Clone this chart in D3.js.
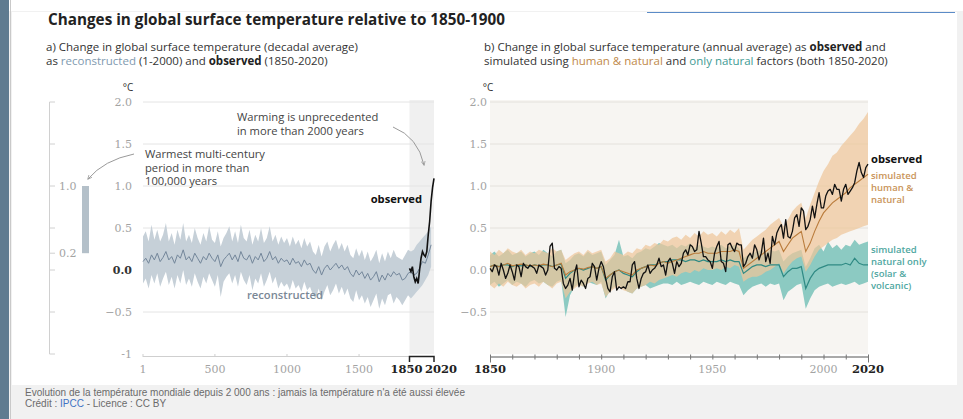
<!DOCTYPE html>
<html lang="en">
<head>
<meta charset="utf-8">
<title>Changes in global surface temperature</title>
<script src="https://cdn.jsdelivr.net/npm/d3@7"></script>
<style>
  body { margin: 0; background: #f1f1f1; font-family: "Open Sans", sans-serif; }
  svg { display: block; }
  .tick-label { font-family: "DejaVu Serif", serif; font-size: 11px; fill: #a3a3a3; }
  .year-bold { font-family: "DejaVu Serif", serif; font-size: 11.5px; font-weight: bold; fill: #222; }
  .grid { stroke: #e4e4e4; stroke-width: 1; }
  .note { font-size: 11.2px; fill: #444; }
  .legend-b { font-size: 9.5px; font-weight: 600; }
</style>
</head>
<body>
<div id="chart"></div>
<script>

// ---- panel a : reconstructed (every 20 years, 1-2000) ----
var reconMean = [
  0.10,0.14,0.08,0.18,0.12,0.20,0.10,0.15,0.22,0.12,
  0.16,0.08,0.18,0.14,0.24,0.12,0.16,0.10,0.20,0.14,
  0.08,0.16,0.12,0.20,0.14,0.10,0.18,0.04,0.12,0.16,
  0.20,0.12,0.18,0.10,0.22,0.14,0.12,0.18,0.08,0.16,
  0.12,0.20,0.10,0.14,0.22,0.12,0.16,0.08,0.14,0.10,
  0.12,0.06,0.14,0.08,0.10,0.04,0.12,0.06,0.08,0.00,
  -0.04,0.04,-0.06,0.02,0.06,0.00,0.04,0.08,0.02,0.06,
  0.00,0.04,-0.04,-0.08,0.00,-0.06,-0.02,-0.10,-0.04,-0.12,
  -0.08,-0.02,-0.14,-0.06,-0.12,-0.04,-0.08,-0.02,-0.06,-0.04,
  -0.12,-0.10,-0.04,-0.02,-0.06,-0.04,0.02,0.10,0.08,0.18,
  0.30];
var reconHi = [
  0.40,0.46,0.34,0.54,0.36,0.48,0.34,0.42,0.56,0.34,
  0.44,0.30,0.48,0.36,0.56,0.34,0.42,0.32,0.50,0.38,
  0.30,0.44,0.34,0.52,0.36,0.32,0.46,0.28,0.38,0.44,
  0.52,0.34,0.46,0.32,0.54,0.38,0.34,0.48,0.30,0.42,
  0.34,0.50,0.32,0.38,0.52,0.34,0.42,0.30,0.40,0.32,
  0.38,0.28,0.40,0.30,0.36,0.26,0.38,0.28,0.34,0.22,
  0.18,0.30,0.16,0.28,0.34,0.22,0.30,0.36,0.24,0.32,
  0.22,0.30,0.18,0.14,0.26,0.16,0.24,0.12,0.22,0.10,
  0.16,0.24,0.08,0.20,0.10,0.22,0.14,0.24,0.16,0.14,
  0.12,0.18,0.24,0.22,0.24,0.30,0.34,0.38,0.42,0.46,
  0.52];
var reconLo = [
  -0.16,-0.10,-0.22,-0.06,-0.16,-0.04,-0.20,-0.10,-0.02,-0.18,
  -0.08,-0.22,-0.06,-0.16,0.00,-0.18,-0.10,-0.20,-0.04,-0.14,
  -0.22,-0.08,-0.16,-0.04,-0.12,-0.20,-0.06,-0.32,-0.14,-0.08,
  -0.04,-0.16,-0.06,-0.20,-0.02,-0.12,-0.18,-0.06,-0.24,-0.10,
  -0.16,-0.04,-0.20,-0.12,-0.02,-0.16,-0.08,-0.22,-0.14,-0.20,
  -0.16,-0.24,-0.12,-0.22,-0.18,-0.26,-0.14,-0.24,-0.20,-0.30,
  -0.34,-0.22,-0.36,-0.26,-0.18,-0.30,-0.24,-0.16,-0.28,-0.20,
  -0.30,-0.22,-0.34,-0.38,-0.24,-0.36,-0.30,-0.40,-0.32,-0.44,
  -0.36,-0.28,-0.46,-0.34,-0.42,-0.30,-0.28,-0.40,-0.32,-0.36,
  -0.42,-0.36,-0.30,-0.34,-0.30,-0.26,-0.22,-0.18,-0.12,-0.06,
  0.04];
// panel a : observed decadal 1850-2020
var obsDecadal = [0.02,-0.02,0.04,-0.08,-0.14,-0.10,-0.16,0.00,0.14,0.22,0.18,0.16,0.22,0.42,0.58,0.82,0.98,1.09];

// ---- panel b : observed annual 1850-2020 ----
var obsAnnual = [
  0.02,-0.02,0.06,0.04,-0.06,0.08,0.00,-0.10,-0.04,0.06,
  -0.02,-0.12,0.06,0.04,-0.08,0.08,0.04,0.02,0.06,0.04,
  0.02,-0.04,0.06,0.04,0.02,-0.06,0.00,0.28,0.32,0.02,
  0.00,0.04,0.02,-0.16,-0.22,-0.18,-0.10,-0.24,-0.04,0.06,
  -0.20,-0.12,-0.16,-0.22,-0.10,-0.08,0.08,0.04,-0.12,0.02,
  0.10,0.04,-0.10,-0.22,-0.26,-0.08,-0.02,-0.24,-0.20,-0.22,
  -0.20,-0.22,-0.14,-0.14,0.06,0.10,-0.10,-0.22,-0.10,-0.04,
  -0.02,0.06,-0.04,0.00,0.02,0.06,0.14,0.04,0.06,-0.06,
  0.10,0.14,0.08,-0.04,0.10,0.04,0.08,0.20,0.24,0.18,
  0.30,0.28,0.22,0.24,0.46,0.32,0.16,0.16,0.12,0.10,
  0.02,0.20,0.28,0.34,0.10,0.08,-0.02,0.30,0.32,0.26,
  0.22,0.32,0.30,0.30,0.04,0.08,0.16,0.20,0.14,0.30,
  0.24,0.12,0.20,0.38,0.10,0.20,0.08,0.40,0.30,0.44,
  0.50,0.54,0.38,0.60,0.40,0.38,0.46,0.62,0.66,0.52,
  0.74,0.70,0.48,0.52,0.60,0.76,0.62,0.78,0.92,0.74,
  0.74,0.88,0.94,0.96,0.90,1.02,0.96,0.96,0.82,0.96,
  1.02,0.90,0.94,0.98,1.04,1.18,1.28,1.16,1.10,1.22,
  1.26];

// ---- panel b : simulations (every 2 years, 1850-2020) ----
var humanMean = [
  0.04,0.06,0.04,0.06,0.08,0.05,0.06,0.07,0.06,0.05,
  0.06,0.05,0.07,0.06,0.04,0.06,0.08,-0.06,-0.02,0.00,
  0.02,0.01,0.03,0.04,0.02,0.04,-0.10,-0.06,-0.02,0.00,
  -0.02,-0.04,-0.06,0.00,0.02,0.04,0.06,0.05,0.08,0.10,
  0.08,0.10,0.12,0.14,0.16,0.18,0.20,0.20,0.22,0.20,
  0.20,0.20,0.22,0.22,0.22,0.24,0.22,0.02,0.06,0.10,
  0.14,0.18,0.22,0.26,0.30,0.34,0.22,0.30,0.38,0.42,
  0.46,0.22,0.32,0.46,0.58,0.68,0.74,0.80,0.84,0.88,
  0.92,0.98,1.02,1.06,1.10,1.14];
var humanHi = [
  0.22,0.18,0.24,0.20,0.26,0.22,0.20,0.24,0.18,0.22,
  0.20,0.24,0.22,0.20,0.26,0.22,0.24,0.12,0.16,0.20,
  0.22,0.18,0.24,0.20,0.22,0.24,0.10,0.14,0.22,0.20,
  0.18,0.22,0.20,0.26,0.24,0.30,0.28,0.32,0.30,0.36,
  0.34,0.38,0.40,0.36,0.42,0.38,0.44,0.40,0.46,0.42,
  0.44,0.40,0.46,0.42,0.48,0.44,0.50,0.24,0.30,0.36,
  0.40,0.44,0.48,0.54,0.58,0.62,0.52,0.60,0.70,0.76,
  0.80,0.62,0.78,0.92,1.06,1.18,1.26,1.36,1.40,1.48,
  1.54,1.60,1.66,1.74,1.80,1.88];
var humanLo = [
  -0.18,-0.22,-0.16,-0.20,-0.14,-0.18,-0.20,-0.16,-0.22,-0.18,
  -0.16,-0.20,-0.14,-0.18,-0.22,-0.16,-0.14,-0.34,-0.26,-0.22,
  -0.18,-0.20,-0.16,-0.14,-0.18,-0.16,-0.32,-0.26,-0.22,-0.20,
  -0.24,-0.26,-0.28,-0.22,-0.20,-0.18,-0.14,-0.16,-0.12,-0.10,
  -0.08,-0.06,-0.08,-0.04,-0.02,-0.04,0.00,-0.02,0.02,0.00,
  0.00,0.02,0.00,0.04,0.02,0.06,0.04,-0.14,-0.10,-0.08,
  -0.08,-0.06,-0.02,0.00,0.04,0.08,-0.04,0.04,0.10,0.14,
  0.16,-0.02,0.06,0.16,0.24,0.28,0.32,0.36,0.38,0.42,
  0.44,0.46,0.48,0.50,0.52,0.54];
var naturalMean = [
  0.04,0.06,0.04,0.06,0.06,0.04,0.06,0.05,0.06,0.04,
  0.06,0.05,0.06,0.06,0.04,0.06,0.07,-0.10,-0.04,0.00,
  0.02,0.00,0.02,0.04,0.02,0.04,-0.12,-0.06,-0.02,0.00,
  -0.04,-0.06,-0.08,-0.02,0.02,0.04,0.06,0.06,0.08,0.10,
  0.10,0.12,0.12,0.12,0.10,0.12,0.12,0.10,0.12,0.10,
  0.10,0.10,0.12,0.10,0.12,0.10,0.10,-0.04,0.00,0.04,
  0.06,0.06,0.04,0.06,0.06,0.06,-0.08,-0.02,0.02,0.02,
  0.04,-0.22,-0.10,-0.02,0.02,0.04,0.06,0.06,0.06,0.06,
  0.08,0.06,0.14,0.08,0.06,0.06];
var naturalHi = [
  0.18,0.22,0.16,0.20,0.24,0.18,0.20,0.22,0.16,0.20,
  0.22,0.18,0.24,0.20,0.16,0.22,0.24,0.08,0.12,0.18,
  0.20,0.16,0.22,0.18,0.20,0.22,0.06,0.12,0.18,0.36,
  0.16,0.18,0.14,0.20,0.22,0.26,0.24,0.28,0.32,0.30,
  0.28,0.30,0.26,0.30,0.28,0.32,0.26,0.30,0.28,0.26,
  0.28,0.26,0.30,0.26,0.28,0.30,0.26,0.14,0.18,0.20,
  0.22,0.24,0.20,0.24,0.22,0.24,0.10,0.16,0.20,0.22,
  0.24,0.04,0.14,0.26,0.30,0.22,0.34,0.26,0.30,0.24,
  0.30,0.28,0.36,0.30,0.32,0.34];
var naturalLo = [
  -0.18,-0.14,-0.20,-0.16,-0.12,-0.18,-0.14,-0.16,-0.20,-0.14,
  -0.12,-0.16,-0.14,-0.18,-0.20,-0.14,-0.12,-0.56,-0.30,-0.20,
  -0.16,-0.20,-0.14,-0.16,-0.18,-0.14,-0.34,-0.24,-0.20,-0.18,
  -0.22,-0.26,-0.28,-0.22,-0.20,-0.18,-0.22,-0.20,-0.18,-0.16,
  -0.16,-0.18,-0.14,-0.18,-0.16,-0.14,-0.16,-0.18,-0.14,-0.16,
  -0.18,-0.14,-0.16,-0.18,-0.14,-0.16,-0.18,-0.30,-0.24,-0.20,
  -0.18,-0.16,-0.20,-0.16,-0.18,-0.16,-0.36,-0.26,-0.22,-0.18,
  -0.16,-0.46,-0.34,-0.24,-0.20,-0.18,-0.16,-0.20,-0.18,-0.16,
  -0.18,-0.16,-0.14,-0.18,-0.16,-0.14];

// tick labels
var yTicksA = [2, 1.5, 1, 0.5, 0, -0.5, -1];
var yTicksB = [2, 1.5, 1, 0.5, 0, -0.5];
var xTicksA = [1, 500, 1000, 1500];
var xLabelsB = [1850, 1900, 1950, 2000, 2020];
var warmestRange = [0.2, 1.0];

// year indexes
var reconYears = d3.range(0, 2001, 20).map(function(y) { return y === 0 ? 1 : y; });
var decYears = d3.range(1850, 2021, 10);
var annYears = d3.range(1850, 2021, 1);
var simYears = d3.range(1850, 2021, 2);

var width = 963, height = 419;

var svg = d3.select("#chart").append("svg")
  .attr("width", width)
  .attr("height", height);

// page frame (screenshot surroundings)
svg.append("rect").attr("x", 0).attr("y", 0).attr("width", width).attr("height", height).attr("fill", "#f1f1f1");
svg.append("rect").attr("x", 0).attr("y", 0).attr("width", width).attr("height", 11).attr("fill", "#ffffff");
svg.append("rect").attr("x", 12).attr("y", 12).attr("width", 945).attr("height", 373).attr("fill", "#ffffff");
svg.append("rect").attr("x", 0).attr("y", 0).attr("width", 9).attr("height", height).attr("fill", "#5f7b90");
svg.append("line").attr("x1", 10.5).attr("x2", 10.5).attr("y1", 0).attr("y2", height).attr("stroke", "#c9c9c9");
svg.append("line").attr("x1", 647).attr("x2", 955).attr("y1", 12.5).attr("y2", 12.5).attr("stroke", "#5b8bc7");

// scales
var yS = d3.scaleLinear().domain([-1, 2]).range([354, 102]);
var xA = d3.scaleLinear().domain([1, 2020]).range([143, 434]);
var xB = d3.scaleLinear().domain([1850, 2020]).range([490, 868]);

// title
svg.append("text")
  .attr("x", 48).attr("y", 25)
  .attr("textLength", 457).attr("lengthAdjust", "spacingAndGlyphs")
  .style("font-size", "16px").style("font-weight", "bold").attr("fill", "#222")
  .text("Changes in global surface temperature relative to 1850-1900");

// subtitles
function subtitle(x, y, parts) {
  var t = svg.append("text").attr("x", x).attr("y", y).style("font-size", "11.5px").attr("fill", "#333");
  parts.forEach(function(p) {
    t.append("tspan").text(p[0]).attr("fill", p[1] || "#333").style("font-weight", p[2] || "normal");
  });
}
subtitle(46, 51, [["a) Change in global surface temperature (decadal average)"]]);
subtitle(46, 65, [["as "], ["reconstructed", "#7f9ab0"], [" (1-2000) and "], ["observed", "#222", "bold"], [" (1850-2020)"]]);
subtitle(484, 51, [["b) Change in global surface temperature (annual average) as "], ["observed", "#222", "bold"], [" and"]]);
subtitle(484, 65, [["simulated using "], ["human & natural", "#c0894a"], [" and "], ["only natural", "#3e9b94"], [" factors (both 1850-2020)"]]);

// ================= panel a =================
var gA = svg.append("g");

// shaded observed period
gA.append("rect")
  .attr("x", xA(1850)).attr("y", 100)
  .attr("width", xA(2020) - xA(1850)).attr("height", yS(-1) - 100)
  .attr("fill", "#f0f0f0");

// grid
gA.selectAll("line.grid").data(yTicksA.slice(0, 6)).enter().append("line")
  .attr("class", "grid")
  .attr("x1", 143).attr("x2", xA(2020))
  .attr("y1", function(d) { return yS(d); }).attr("y2", function(d) { return yS(d); });

// y labels
gA.selectAll("text.ya").data(yTicksA).enter().append("text")
  .attr("class", "tick-label")
  .attr("x", 132).attr("y", function(d) { return yS(d) + 4; })
  .attr("text-anchor", "end")
  .style("fill", function(d) { return d === 0 ? "#333" : null; })
  .style("font-weight", function(d) { return d === 0 ? "bold" : null; })
  .text(function(d) { return d === -1 ? "-1" : d3.format(".1f")(d); });

gA.append("text").attr("x", 128).attr("y", 91).attr("text-anchor", "middle")
  .style("font-size", "10px").attr("fill", "#333").text("°C");

// reconstructed band + line
var reconArea = d3.area()
  .x(function(d, i) { return xA(reconYears[i]); })
  .y0(function(d, i) { return yS(reconLo[i]); })
  .y1(function(d, i) { return yS(reconHi[i]); });
gA.append("path").datum(reconMean).attr("d", reconArea).attr("fill", "#c6d0d8");

var reconLine = d3.line()
  .x(function(d, i) { return xA(reconYears[i]); })
  .y(function(d) { return yS(d); });
gA.append("path").datum(reconMean).attr("d", reconLine)
  .attr("fill", "none").attr("stroke", "#73869a").attr("stroke-width", 1);

// observed decadal
var obsLineA = d3.line()
  .x(function(d, i) { return xA(decYears[i]); })
  .y(function(d) { return yS(d); });
gA.append("path").datum(obsDecadal).attr("d", obsLineA)
  .attr("fill", "none").attr("stroke", "#111").attr("stroke-width", 1.6);

// x axis a
gA.append("line").attr("x1", 143).attr("x2", xA(2020)).attr("y1", 356.5).attr("y2", 356.5)
  .attr("stroke", "#cfcfcf");
gA.selectAll("line.xt").data(xTicksA).enter().append("line")
  .attr("x1", function(d) { return xA(d); }).attr("x2", function(d) { return xA(d); })
  .attr("y1", 354).attr("y2", 357).attr("stroke", "#cfcfcf");
gA.selectAll("text.xa").data(xTicksA).enter().append("text")
  .attr("class", "tick-label")
  .attr("x", function(d) { return xA(d); }).attr("y", 373)
  .attr("text-anchor", "middle").text(function(d) { return d; });
// bracket 1850-2020
gA.append("path")
  .attr("d", "M" + xA(1850) + ",362V356.5H" + xA(2020) + "V362")
  .attr("fill", "none").attr("stroke", "#222").attr("stroke-width", 1.5);
gA.append("text").attr("class", "year-bold")
  .attr("x", xA(1850) + 13).attr("y", 373).attr("text-anchor", "end").text(1850);
gA.append("text").attr("class", "year-bold")
  .attr("x", xA(2020) - 9).attr("y", 373).attr("text-anchor", "start").text(2020);

// left mini scale with warmest multi-century bar
gA.append("line").attr("x1", 49.5).attr("x2", 49.5).attr("y1", yS(2)).attr("y2", yS(-1))
  .attr("stroke", "#d0d0d0");
gA.selectAll("line.mt").data(yTicksA.concat([warmestRange[0]])).enter().append("line")
  .attr("x1", 49.5).attr("x2", 55)
  .attr("y1", function(d) { return yS(d); }).attr("y2", function(d) { return yS(d); })
  .attr("stroke", "#d0d0d0");
gA.selectAll("text.mw").data(warmestRange).enter().append("text")
  .attr("class", "tick-label")
  .attr("x", 59).attr("y", function(d) { return yS(d) + 4; })
  .text(function(d) { return d3.format(".1f")(d); });
gA.append("rect")
  .attr("x", 82).attr("width", 7)
  .attr("y", yS(warmestRange[1])).attr("height", yS(warmestRange[0]) - yS(warmestRange[1]))
  .attr("fill", "#b4c0c9");

// arrow marker
svg.append("defs").append("marker")
  .attr("id", "arr").attr("viewBox", "0 0 10 10").attr("refX", 8).attr("refY", 5)
  .attr("markerWidth", 5).attr("markerHeight", 5).attr("orient", "auto-start-reverse")
  .append("path").attr("d", "M0,1L9,5L0,9").attr("fill", "none").attr("stroke", "#9a9a9a").attr("stroke-width", 1.5);

// annotations (one text element per line)
function note(x, y, lines, opts, cls, step) {
  opts = opts || {};
  lines.forEach(function(l, i) {
    var t = svg.append("text").attr("class", cls || "note").attr("x", x).attr("y", y + i * (step || 13.5)).text(l);
    if (opts.fill) t.style("fill", opts.fill);
    if (opts.weight) t.style("font-weight", opts.weight);
    if (opts.anchor) t.attr("text-anchor", opts.anchor);
  });
}
note(145, 158, ["Warmest multi-century", "period in more than", "100,000 years"]);
svg.append("path").attr("d", "M134,154 Q104,160 88,179")
  .attr("fill", "none").attr("stroke", "#9a9a9a").attr("stroke-width", 1).attr("marker-end", "url(#arr)");

note(237, 121, ["Warming is unprecedented", "in more than 2000 years"]);
svg.append("path").attr("d", "M393,127 Q418,137 424,165")
  .attr("fill", "none").attr("stroke", "#9a9a9a").attr("stroke-width", 1).attr("marker-end", "url(#arr)");

note(422, 203, ["observed"], {anchor: "end", weight: "bold", fill: "#111"});
note(247, 299, ["reconstructed"], {fill: "#7a8896", weight: 600});

// ================= panel b =================
var gB = svg.append("g");

gB.append("rect")
  .attr("x", xB(1850)).attr("y", 100)
  .attr("width", xB(2020) - xB(1850)).attr("height", yS(-1) - 100)
  .attr("fill", "#f7f5f2");

gB.selectAll("line.grid").data(yTicksB).enter().append("line")
  .attr("class", "grid")
  .style("stroke", "#e4e1dc")
  .attr("x1", xB(1850)).attr("x2", xB(2020))
  .attr("y1", function(d) { return yS(d); }).attr("y2", function(d) { return yS(d); });

gB.selectAll("text.yb").data(yTicksB).enter().append("text")
  .attr("class", "tick-label")
  .attr("x", 487).attr("y", function(d) { return yS(d) + 4; })
  .attr("text-anchor", "end")
  .text(function(d) { return d3.format(".1f")(d); });

gB.append("text").attr("x", 488).attr("y", 91).attr("text-anchor", "middle")
  .style("font-size", "10px").attr("fill", "#333").text("°C");

// simulation bands
function band(lo, hi) {
  return d3.area()
    .x(function(d, i) { return xB(simYears[i]); })
    .y0(function(d, i) { return yS(lo[i]); })
    .y1(function(d, i) { return yS(hi[i]); });
}
gB.append("path").datum(naturalMean).attr("d", band(naturalLo, naturalHi))
  .attr("fill", "#8ccac2");
gB.append("path").datum(humanMean).attr("d", band(humanLo, humanHi))
  .attr("fill", "#efc69a").attr("fill-opacity", 0.72);

var simLine = d3.line()
  .x(function(d, i) { return xB(simYears[i]); })
  .y(function(d) { return yS(d); });
gB.append("path").datum(naturalMean).attr("d", simLine)
  .attr("fill", "none").attr("stroke", "#2f8a84").attr("stroke-width", 1.2);
gB.append("path").datum(humanMean).attr("d", simLine)
  .attr("fill", "none").attr("stroke", "#b97b3b").attr("stroke-width", 1.1);

var obsLineB = d3.line()
  .x(function(d, i) { return xB(annYears[i]); })
  .y(function(d) { return yS(d); });
gB.append("path").datum(obsAnnual).attr("d", obsLineB)
  .attr("fill", "none").attr("stroke", "#111").attr("stroke-width", 1.3)
  .attr("stroke-linejoin", "round");

// x axis b
var axisB = d3.axisBottom(xB)
  .tickValues(d3.range(1850, 2021, 10))
  .tickSizeInner(3).tickSizeOuter(0)
  .tickFormat("");
var axB = gB.append("g").attr("transform", "translate(0,356.5)").call(axisB);
axB.select(".domain").attr("stroke", "#555");
axB.selectAll(".tick text").remove();
axB.selectAll(".tick line").attr("stroke", "#777").attr("y1", -2)
  .attr("y2", function(d) { return (d === 1850 || d === 2020) ? 6 : 3; });
gB.selectAll("text.xb").data(xLabelsB).enter().append("text")
  .attr("class", function(d) { return (d === 1850 || d === 2020) ? "year-bold" : "tick-label"; })
  .attr("x", function(d) { return xB(d); }).attr("y", 373)
  .attr("text-anchor", "middle").text(function(d) { return d; });

// legend labels b
note(871, 163, ["observed"], {weight: "bold", fill: "#111"});
note(871, 179, ["simulated", "human &", "natural"], {fill: "#c99459"}, "legend-b", 12);
note(871, 253, ["simulated", "natural only", "(solar &", "volcanic)"], {fill: "#4fa7a1"}, "legend-b", 12);

// caption
var cap = svg.append("text").attr("x", 25).attr("y", 396)
  .style("font-family", "'Liberation Sans', Arial, sans-serif").style("font-size", "10px").attr("fill", "#6b6b6b");
cap.append("tspan").attr("x", 25).text("Evolution de la température mondiale depuis 2 000 ans : jamais la température n'a été aussi élevée");
var cap2 = cap.append("tspan").attr("x", 25).attr("dy", 10.5);
cap2.append("tspan").text("Crédit : ");
cap2.append("tspan").attr("fill", "#3f73c4").text("IPCC");
cap2.append("tspan").text(" - Licence : CC BY");

</script>
</body>
</html>
